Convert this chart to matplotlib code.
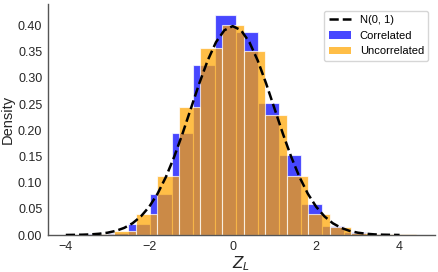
import numpy as np
import matplotlib
matplotlib.use("Agg")
import matplotlib.pyplot as plt
from matplotlib.patches import Patch
from matplotlib.lines import Line2D

# histogram bins (density)
corr_edges = [-3.534, -3.017, -2.500, -1.983, -1.466, -0.949, -0.433, 0.084,
              0.601, 1.118, 1.635, 2.152, 2.669, 3.186, 3.703]
corr_density = [0.001, 0.003, 0.021, 0.079, 0.194, 0.325, 0.420, 0.387,
                0.253, 0.152, 0.059, 0.017, 0.005, 0.002]

uncorr_edges = [-3.359, -2.842, -2.325, -1.808, -1.291, -0.774, -0.257, 0.260,
                0.777, 1.294, 1.811, 2.328, 2.845, 3.362, 3.879, 4.396]
uncorr_density = [0.002, 0.008, 0.040, 0.113, 0.245, 0.357, 0.401, 0.351,
                  0.230, 0.113, 0.040, 0.015, 0.004, 0.002, 0.001]

# N(0, 1) reference curve, sampled every 0.2
norm_x = [-4.0, -3.8, -3.6, -3.4, -3.2, -3.0, -2.8, -2.6, -2.4, -2.2, -2.0,
          -1.8, -1.6, -1.4, -1.2, -1.0, -0.8, -0.6, -0.4, -0.2, 0.0,
          0.2, 0.4, 0.6, 0.8, 1.0, 1.2, 1.4, 1.6, 1.8, 2.0,
          2.2, 2.4, 2.6, 2.8, 3.0, 3.2, 3.4, 3.6, 3.8, 4.0]
norm_y = [0.0001, 0.0003, 0.0006, 0.0012, 0.0024, 0.0044, 0.0079, 0.0136,
          0.0224, 0.0355, 0.0540, 0.0790, 0.1109, 0.1497, 0.1942, 0.2420,
          0.2897, 0.3332, 0.3683, 0.3910, 0.3989, 0.3910, 0.3683, 0.3332,
          0.2897, 0.2420, 0.1942, 0.1497, 0.1109, 0.0790, 0.0540, 0.0355,
          0.0224, 0.0136, 0.0079, 0.0044, 0.0024, 0.0012, 0.0006, 0.0003,
          0.0001]

plt.rcParams['font.family'] = ['Liberation Sans', 'DejaVu Sans']

fig = plt.figure(figsize=(4.39, 2.72), dpi=100, facecolor='white')
ax = fig.add_axes([0.109, 0.136, 0.882, 0.849])

def draw_hist(edges, dens, color):
    edges = np.array(edges)
    ax.bar(edges[:-1], dens, width=np.diff(edges), align='edge',
           color=color, alpha=0.72, edgecolor='white', linewidth=0.8)

draw_hist(corr_edges, corr_density, 'blue')
draw_hist(uncorr_edges, uncorr_density, 'orange')
ax.plot(norm_x, norm_y, color='black', linestyle='--', linewidth=1.8, zorder=5)

ax.set_ylim(0, 0.441)
ax.set_xlim(-4.43, 4.85)
ax.set_xticks([-4, -2, 0, 2, 4])
ax.set_yticks(np.arange(0, 0.41, 0.05))
ax.yaxis.set_major_formatter(matplotlib.ticker.FormatStrFormatter('%.2f'))
ax.tick_params(length=0, pad=4, labelsize=9, colors='#262626')

for side in ['top', 'right']:
    ax.spines[side].set_visible(False)
for side in ['left', 'bottom']:
    ax.spines[side].set_color('#555555')
    ax.spines[side].set_linewidth(1.0)

ax.set_xlabel('$Z_L$', fontsize=11, labelpad=1, color='#262626')
ax.set_ylabel('Density', fontsize=10.5, labelpad=2, color='#262626')

handles = [Line2D([], [], color='black', linestyle='--', linewidth=1.8),
           Patch(facecolor='blue', alpha=0.72, edgecolor='none'),
           Patch(facecolor='orange', alpha=0.72, edgecolor='none')]
ax.legend(handles, ['N(0, 1)', 'Correlated', 'Uncorrelated'], loc='upper right',
          fontsize=8, frameon=True, edgecolor='#cccccc', borderaxespad=0.6)

fig.savefig('out.png', dpi=100, facecolor='white')
